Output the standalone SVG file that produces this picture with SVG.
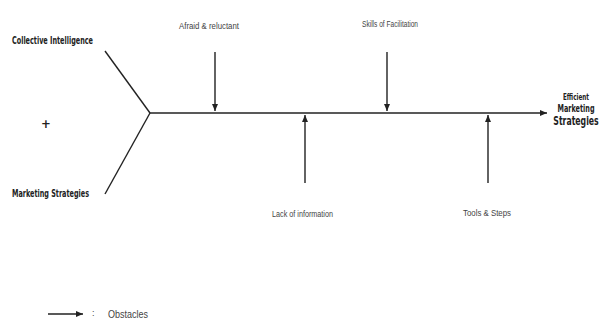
<svg xmlns="http://www.w3.org/2000/svg" width="605" height="320" viewBox="0 0 605 320">
<style>
.ln{stroke:#222;stroke-width:1.4;fill:none}
.b{font-family:"DejaVu Sans Condensed","Liberation Sans",sans-serif;font-weight:bold;fill:#222}
.n{font-family:"Liberation Sans",sans-serif;fill:#444}
</style>
<defs>
<marker id="ah" markerWidth="8" markerHeight="8" refX="7" refY="4" orient="auto" markerUnits="userSpaceOnUse">
<path d="M0,1 L7,4 L0,7 Z" fill="#222"/>
</marker>
</defs>
<rect width="605" height="320" fill="#fff"/>
<g id="connectors">
<line class="ln" x1="105" y1="51" x2="150" y2="113"/>
<line class="ln" x1="150" y1="113" x2="105" y2="194"/>
<line class="ln" x1="150" y1="113" x2="547" y2="113" marker-end="url(#ah)"/>
<line class="ln" x1="215" y1="52" x2="215" y2="111" marker-end="url(#ah)"/>
<line class="ln" x1="387" y1="52" x2="387" y2="111" marker-end="url(#ah)"/>
<line class="ln" x1="305" y1="183" x2="305" y2="115" marker-end="url(#ah)"/>
<line class="ln" x1="488" y1="183" x2="488" y2="115" marker-end="url(#ah)"/>
<line class="ln" x1="48" y1="314" x2="83" y2="314" marker-end="url(#ah)"/>
</g>
<g id="collective"><text class="b" x="12" y="44" font-size="10" textLength="81" lengthAdjust="spacingAndGlyphs">Collective Intelligence</text></g>
<g id="plus"><text class="b" x="46" y="128" font-size="13" text-anchor="middle">+</text></g>
<g id="marketing"><text class="b" x="12" y="197" font-size="10" textLength="77" lengthAdjust="spacingAndGlyphs">Marketing Strategies</text></g>
<g id="afraid"><text class="n" x="179" y="29" font-size="9" textLength="60" lengthAdjust="spacingAndGlyphs">Afraid &amp; reluctant</text></g>
<g id="skills"><text class="n" x="362" y="27" font-size="9" textLength="56" lengthAdjust="spacingAndGlyphs">Skills of Facilitation</text></g>
<g id="lack"><text class="n" x="272" y="217" font-size="9" textLength="61" lengthAdjust="spacingAndGlyphs">Lack of information</text></g>
<g id="tools"><text class="n" x="463" y="216" font-size="9" textLength="48" lengthAdjust="spacingAndGlyphs">Tools &amp; Steps</text></g>
<g id="efficient">
<text class="b" x="576" y="100" font-size="9" text-anchor="middle" textLength="26" lengthAdjust="spacingAndGlyphs">Efficient</text>
<text class="b" font-size="10" text-anchor="middle" transform="translate(576,112) scale(0.72,1)">Marketing</text>
<text class="b" font-size="12" text-anchor="middle" transform="translate(576,125) scale(0.72,1)">Strategies</text>
</g>
<g id="legend">
<text class="n" x="92" y="316" font-size="9" fill="#999">:</text>
<text class="n" x="108" y="318" font-size="11" fill="#222" textLength="40" lengthAdjust="spacingAndGlyphs">Obstacles</text>
</g>
</svg>
